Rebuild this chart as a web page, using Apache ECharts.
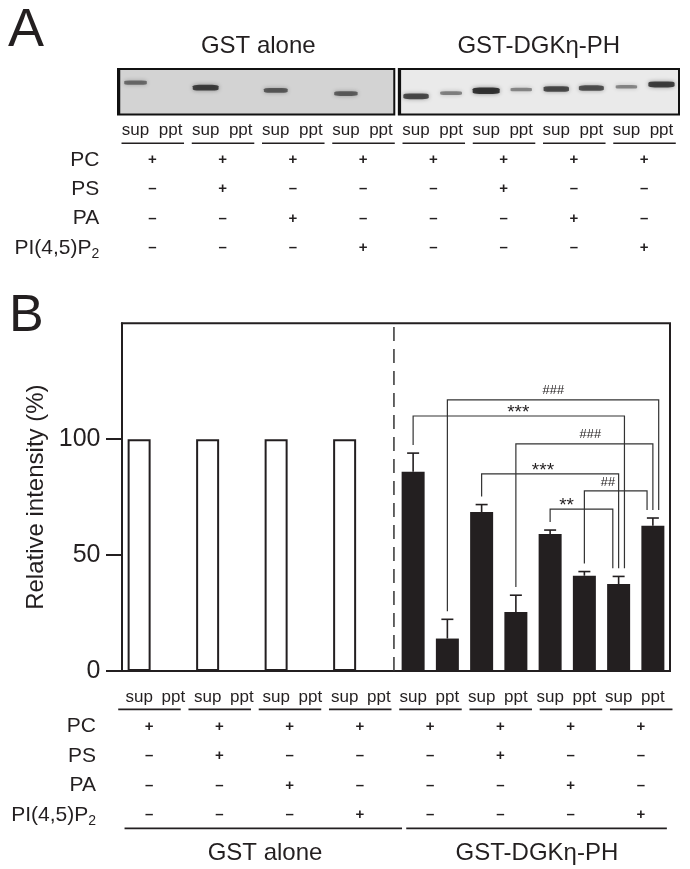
<!DOCTYPE html>
<html><head><meta charset="utf-8">
<script src="https://cdn.jsdelivr.net/npm/echarts@6/dist/echarts.min.js"></script>
<style>html,body{margin:0;padding:0;background:#fff}#c{width:690px;height:869px}</style>
</head><body><div id="c"></div>
<script>
// ---------------- data ----------------
const laneLabels = ['sup','ppt','sup','ppt','sup','ppt','sup','ppt','sup','ppt','sup','ppt','sup','ppt','sup','ppt'];
const groupNames = ['GST alone', 'GST-DGKη-PH'];
const lipidRows = ['PC', 'PS', 'PA', 'PI(4,5)P2'];
const lipidPresence = [
  [1,1,1,1,1,1,1,1],
  [0,1,0,0,0,1,0,0],
  [0,0,1,0,0,0,1,0],
  [0,0,0,1,0,0,0,1]
];
const gstAloneMean = [100, 0, 100, 0, 100, 0, 100, 0];
const dgkMean = [86, 14, 68.6, 25.4, 59.1, 41.1, 37.5, 62.7];
const dgkErr  = [8, 8.3, 3.2, 7.3, 1.7, 1.8, 3.3, 3.3];
const yTicks = [0, 50, 100];
// western blot (panel A): band migration (0 = top of membrane, 1 = bottom) and darkness
const bandPosition  = [0.30, null, 0.41, null, 0.47, null, 0.54, null, 0.60, 0.53, 0.48, 0.45, 0.44, 0.42, 0.39, 0.34];
const bandIntensity = [0.45, 0, 0.85, 0, 0.6, 0, 0.55, 0, 0.8, 0.35, 1.0, 0.3, 0.8, 0.75, 0.3, 0.9];
// significance brackets (lane indices 0..15)
const bracketFrom  = [9, 8, 11, 10, 13, 12];
const bracketTo    = [15, 14, 15, 14, 15, 14];
const bracketLevel = [117, 110, 98, 85, 77.7, 69.8];
const bracketMark  = ['###', '***', '###', '***', '##', '**'];
const bracketLabelX = [12.59, 11.57, 13.67, 12.29, 14.18, 12.98];

// ---------------- style ----------------
const INK = '#231f20';
const FONT = "'Liberation Sans', Arial, Helvetica, sans-serif";
const chart = echarts.init(document.getElementById('c'), null, {width: 690, height: 869});

const allMean = gstAloneMean.concat(dgkMean);
const allErr = gstAloneMean.map(() => 0).concat(dgkErr);
const legGap = 3.5;
const legStep = 0.17;
const plainLabel = {textBorderWidth: 0, textBorderColor: 'transparent', textShadowBlur: 0, opacity: 1};

function segSeries(xi, yi, rows, style, z) {
  return {
    type: 'custom', xAxisIndex: xi, yAxisIndex: yi, silent: true, z: z || 5,
    data: rows,
    renderItem(params, api) {
      const a = api.coord([api.value(0), api.value(1)]);
      const b = api.coord([api.value(2), api.value(3)]);
      return {type: 'line', shape: {x1: a[0], y1: a[1], x2: b[0], y2: b[1]},
        style: Object.assign({stroke: INK, lineWidth: 1.5}, style)};
    }
  };
}

function rowLabel(v) {
  const n = lipidRows[v - 1];
  if (!n) return '';
  const m = n.match(/^(.*P)(\d)$/);
  return m ? '{m|' + m[1] + '}{s|' + m[2] + '}' : '{m|' + n + '}';
}
const rowRich = {
  m: {fontSize: 21, color: INK, fontFamily: FONT},
  s: {fontSize: 14, color: INK, fontFamily: FONT, verticalAlign: 'bottom', padding: [12, 0, 0, 0]}
};

function glyphData() {
  const out = [];
  lipidPresence.forEach((row, r) => row.forEach((v, c) => out.push([c + 0.5, r + 1, v])));
  return out;
}
function glyphSeries(xi, yi) {
  return {
    type: 'scatter', xAxisIndex: xi, yAxisIndex: yi, symbolSize: 0, silent: true,
    itemStyle: {color: INK},
    data: glyphData(),
    label: Object.assign({show: true, position: 'inside', color: INK, fontSize: 15, fontWeight: 'bold', fontFamily: FONT,
      formatter: p => p.value[2] ? '+' : '\u2013'}, plainLabel)
  };
}
function pairUnderlines(y) {
  return lipidPresence[0].map((v, c) => [c + 0.06, y, c + 0.95, y]);
}

// bracket geometry from data
const bracketRows = bracketFrom.map((f, i) => {
  const t = bracketTo[i];
  const same = bracketTo.map((tt, j) => j).filter(j => bracketTo[j] === t)
    .sort((a, b) => bracketLevel[a] - bracketLevel[b]);
  const rank = same.indexOf(i);
  const xr = t + 0.5 + (rank - (same.length - 1) / 2) * legStep;
  const top = k => allMean[k] + allErr[k] + legGap;
  return [f + 0.5, top(f), xr, top(t), bracketLevel[i]];
});

const bandData = bandPosition.map((p, i) => p == null ? null : [i + 0.5, p, bandIntensity[i]]).filter(Boolean);

const option = {
  animation: false,
  backgroundColor: '#fff',
  textStyle: {fontFamily: FONT, color: INK},
  grid: [
    {left: 118, top: 69, width: 561, height: 45.5, outerBoundsMode: 'none'},
    {left: 117.3, top: 130.7, width: 562, height: 146.5, outerBoundsMode: 'none'},
    {left: 122, top: 323.3, width: 548, height: 347.7, show: true, borderColor: INK, borderWidth: 2, outerBoundsMode: 'none'},
    {left: 114, top: 697.3, width: 562, height: 161.7, outerBoundsMode: 'none'}
  ],
  xAxis: [
    {type: 'category', gridIndex: 0, position: 'bottom', data: laneLabels.map((s, i) => s + '-' + i),
      axisLine: {show: false}, axisTick: {show: false},
      axisLabel: {interval: 0, margin: 7, fontSize: 17, color: INK, formatter: v => v.split('-')[0]}},
    {type: 'value', gridIndex: 0, position: 'bottom', min: 0, max: 16, show: false},
    {type: 'category', gridIndex: 0, position: 'top', data: groupNames,
      axisLine: {show: false}, axisTick: {show: false},
      axisLabel: {interval: 0, margin: 11, fontSize: 24, color: INK}},
    {type: 'value', gridIndex: 1, min: 0, max: 8, show: false},
    {type: 'category', gridIndex: 2, position: 'bottom', data: laneLabels.map((s, i) => s + '-' + i),
      axisLine: {lineStyle: {color: INK, width: 2}},
      axisTick: {alignWithLabel: true, length: 14, lineStyle: {color: INK, width: 2}},
      axisLabel: {interval: 0, margin: 18, fontSize: 17, color: INK, formatter: v => v.split('-')[0]}},
    {type: 'value', gridIndex: 2, position: 'top', min: 0, max: 16, show: false},
    {type: 'value', gridIndex: 3, min: 0, max: 8, show: false}
  ],
  yAxis: [
    {type: 'value', gridIndex: 0, min: 0, max: 1, inverse: true, show: false},
    {type: 'value', gridIndex: 1, min: 0, max: 5, interval: 1, inverse: true,
      axisLine: {show: false}, axisTick: {show: false}, splitLine: {show: false},
      axisLabel: {margin: 18, formatter: rowLabel, rich: rowRich}},
    {type: 'value', gridIndex: 2, min: 0, max: 150, interval: 50, offset: 2.5,
      name: 'Relative intensity (%)', nameLocation: 'middle', nameGap: 62,
      nameTextStyle: {fontSize: 24, color: INK},
      axisLine: {show: true, lineStyle: {color: INK, width: 2}},
      axisTick: {show: true, length: 16, lineStyle: {color: INK, width: 2}, customValues: yTicks},
      axisLabel: {margin: 19, fontSize: 25, color: INK, customValues: yTicks},
      splitLine: {show: false}},
    {type: 'value', gridIndex: 3, min: 0, max: 5.5, interval: 1, inverse: true,
      axisLine: {show: false}, axisTick: {show: false}, splitLine: {show: false},
      axisLabel: {margin: 18, formatter: rowLabel, rich: rowRich}}
  ],
  graphic: [
    {type: 'text', left: 8, top: 4, style: {text: 'A', fontSize: 54, fill: INK, fontFamily: FONT}},
    {type: 'text', left: 9, top: 291, style: {text: 'B', fontSize: 52, fill: INK, fontFamily: FONT}}
  ],
  series: [
    // blot membranes
    {type: 'custom', xAxisIndex: 1, yAxisIndex: 0, silent: true, z: 1,
      data: [[0, 7.88, 0], [8.01, 16, 1]],
      renderItem(params, api) {
        const a = api.coord([api.value(0), 0]);
        const b = api.coord([api.value(1), 1]);
        const fill = api.value(2) ? '#eaeaea' : '#d3d3d3';
        return {type: 'group', children: [
          {type: 'rect', shape: {x: a[0], y: a[1], width: b[0] - a[0], height: b[1] - a[1]},
            style: {fill: fill, stroke: '#111', lineWidth: 2}},
          {type: 'line', shape: {x1: a[0] + 1, y1: a[1], x2: a[0] + 1, y2: b[1]}, style: {stroke: '#111', lineWidth: 2.5}}
        ]};
      }},
    // blot bands
    {type: 'scatter', xAxisIndex: 1, yAxisIndex: 0, silent: true, z: 3,
      data: bandData, symbol: 'roundRect',
      symbolSize: v => [19 + 8 * v[2], 2.5 + 4 * v[2]],
      itemStyle: {color: p => 'rgba(20,20,20,' + (0.3 + 0.7 * p.value[2]).toFixed(2) + ')',
        shadowBlur: 4, shadowColor: 'rgba(0,0,0,0.5)'}},
    // table A
    glyphSeries(3, 1),
    segSeries(3, 1, pairUnderlines(0.43), {lineWidth: 1.6}),
    // panel B bars
    {type: 'bar', xAxisIndex: 4, yAxisIndex: 2, barWidth: 23, barGap: '-100%', z: 2,
      data: gstAloneMean.concat(dgkMean.map(() => '-')),
      itemStyle: {color: '#fff', borderColor: INK, borderWidth: 2}},
    {type: 'bar', xAxisIndex: 4, yAxisIndex: 2, barWidth: 23, barGap: '-100%', z: 2,
      data: gstAloneMean.map(() => '-').concat(dgkMean),
      itemStyle: {color: INK}},
    // error bars (upper only)
    {type: 'custom', xAxisIndex: 4, yAxisIndex: 2, silent: true, z: 4,
      data: dgkMean.map((m, i) => [gstAloneMean.length + i, m, dgkErr[i]]),
      renderItem(params, api) {
        const p0 = api.coord([api.value(0), api.value(1)]);
        const p1 = api.coord([api.value(0), api.value(1) + api.value(2)]);
        return {type: 'group', children: [
          {type: 'line', shape: {x1: p0[0], y1: p0[1], x2: p1[0], y2: p1[1]}, style: {stroke: INK, lineWidth: 1.6}},
          {type: 'line', shape: {x1: p1[0] - 6, y1: p1[1], x2: p1[0] + 6, y2: p1[1]}, style: {stroke: INK, lineWidth: 1.6}}
        ]};
      }},
    // group separator
    segSeries(5, 2, [[7.94, 0, 7.94, 150]], {lineWidth: 1.5, lineDash: [14, 8], stroke: '#333'}),
    // significance brackets
    {type: 'custom', xAxisIndex: 5, yAxisIndex: 2, silent: true, z: 5,
      data: bracketRows,
      renderItem(params, api) {
        const xl = api.value(0), yl = api.value(1), xr = api.value(2), yr = api.value(3), lv = api.value(4);
        const pts = [api.coord([xl, yl]), api.coord([xl, lv]), api.coord([xr, lv]), api.coord([xr, yr])];
        return {type: 'polyline', shape: {points: pts}, style: {stroke: '#333', lineWidth: 1.2, fill: null}};
      }},
    {type: 'scatter', xAxisIndex: 5, yAxisIndex: 2, symbolSize: 0, silent: true, z: 6,
      itemStyle: {color: INK},
      data: bracketMark.map((m, i) => ({
        value: [bracketLabelX[i], bracketLevel[i], m],
        label: m[0] === '#'
          ? {fontSize: 13, fontStyle: 'italic', offset: [0, -9]}
          : {fontSize: 19, offset: [0, -3]}
      })),
      label: Object.assign({show: true, position: 'inside', color: INK, formatter: p => p.value[2]}, plainLabel)},
    // table B
    glyphSeries(6, 3),
    segSeries(6, 3, pairUnderlines(0.41), {lineWidth: 1.6}),
    segSeries(6, 3, [[0.15, 4.46, 4.1, 4.46], [4.16, 4.46, 7.87, 4.46]], {lineWidth: 1.6}),
    {type: 'scatter', xAxisIndex: 6, yAxisIndex: 3, symbolSize: 0, silent: true,
      itemStyle: {color: INK},
      data: groupNames.map((g, i) => [i === 0 ? 2.15 : 6.02, 5.31, g]),
      label: Object.assign({show: true, position: 'inside', fontSize: 24, color: INK, formatter: p => p.value[2]}, plainLabel)}
  ]
};
chart.setOption(option);
</script>
</body></html>
